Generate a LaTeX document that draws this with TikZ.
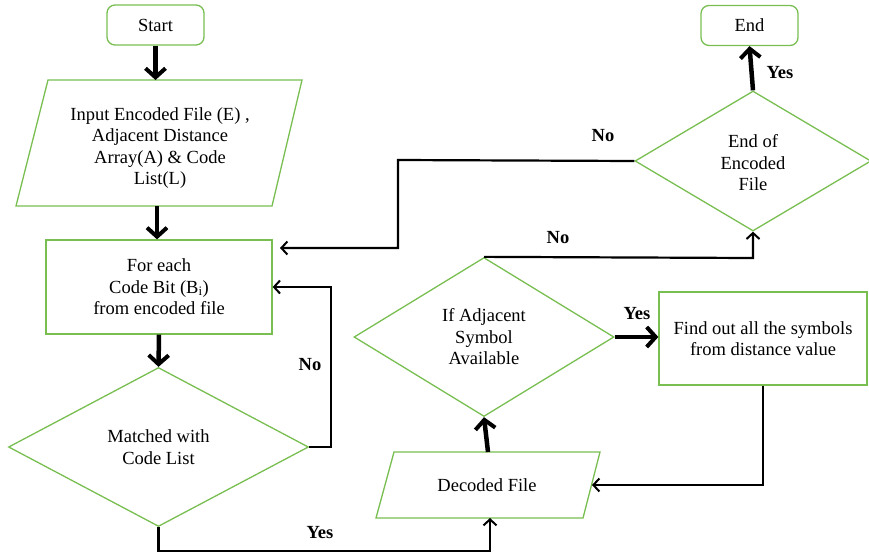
\documentclass[tikz,border=0pt]{standalone}
\usepackage{fontspec}
\setmainfont{Liberation Serif}
\usetikzlibrary{shapes.geometric,arrows.meta}
\definecolor{boxgreen}{RGB}{120,190,80}
\tikzset{
  x=1pt,y=-1pt,
  every node/.style={font=\fontsize{18.5}{21.5}\selectfont, align=center, inner sep=0pt},
  shp/.style={draw=boxgreen, line width=1.3pt},
  term/.style={shp, rounded corners=8pt, minimum width=97pt, minimum height=40pt},
  proc/.style={shp, rectangle},
  dec/.style={shp, diamond},
  thin/.style={draw=black, line width=2.2pt, -{Straight Barb[length=6pt,width=13pt,line width=2pt]}},
  thick/.style={draw=black, line width=4.5pt, -{Straight Barb[length=9pt,width=20pt,line width=4pt]}},
  lbl/.style={font=\fontsize{18.5}{21}\bfseries\selectfont}
}
\begin{document}
\begin{tikzpicture}
\useasboundingbox (0,0) rectangle (869,557);
% nodes
\node[term] (start) at (155.5,25) {Start};
\draw[shp] (48,80) -- (302,80) -- (272,206) -- (16,206) -- cycle;
\coordinate (inN) at (157,80);
\coordinate (inS) at (157,206);
\node (input) at (160,148) {Input Encoded File (E) ,\\Adjacent Distance\\Array(A) \& Code\\List(L)};
\node[proc, minimum width=226pt, minimum height=94pt] (each) at (159,287) {For each\\Code Bit (B\textsubscript{i})\\from encoded file};
\node[dec, minimum width=300pt, minimum height=159pt] (match) at (158.5,447) {Matched with\\Code List};
\draw[shp] (394,452) -- (600,452) -- (583,518) -- (376,518) -- cycle;
\coordinate (decN) at (488,452);
\coordinate (decS) at (490,518);
\coordinate (decE) at (592,485);
\node (decoded) at (487,485) {Decoded File};
\node[dec, minimum width=260pt, minimum height=159pt] (adj) at (484,337) {If Adjacent\\Symbol\\Available};
\node[proc, minimum width=208pt, minimum height=93pt] (find) at (763,338.5) {Find out all the symbols\\from distance value};
\node[dec, minimum width=236pt, minimum height=140pt] (endenc) at (753,161) {\phantom{X}};
\node (endenctxt) at (753,163) {End of\\Encoded\\File};
\node[term] (end) at (749.5,25.5) {End};
% coordinates
\coordinate (c1) at (331,447);
\coordinate (c2) at (331,287);
\coordinate (c3) at (158.5,551);
\coordinate (c4) at (490,551);
\coordinate (c5) at (763,485);
\coordinate (c6) at (753,258);
\coordinate (c7) at (398,160);
\coordinate (c8) at (398,248);
\coordinate (c9) at (280,248);
% connectors
\draw[thick] (start.south) -- (start.south |- inN);
\draw[thick] (inS) -- (inS |- each.north);
\draw[thick] (each.south) -- (match.north);
\draw[thin] (match.east) -- (c1) -- (c2) -- (c2 -| each.east);
\draw[thin] (match.south) -- (c3) -- (c4) -- (decS);
\draw[thick] (decN) -- (adj.south);
\draw[thick] (adj.east) -- (adj.east -| find.west);
\draw[thin] (find.south -| c5) -- (c5) -- (decE);
\draw[thin] (adj.north) -- (c6) -- (endenc.south);
\draw[thin] (endenc.west) -- (c7) -- (c8) -- (c9);
\draw[thick] (endenc.north) -- (end.south);
% labels
\node[lbl] (lno1) at (310,365) {No};
\node[lbl] (lyes1) at (320,533) {Yes};
\node[lbl] (lyes2) at (637,314) {Yes};
\node[lbl] (lno2) at (558,238) {No};
\node[lbl] (lno3) at (603,136) {No};
\node[lbl] (lyes3) at (780,73) {Yes};
\end{tikzpicture}
\end{document}
